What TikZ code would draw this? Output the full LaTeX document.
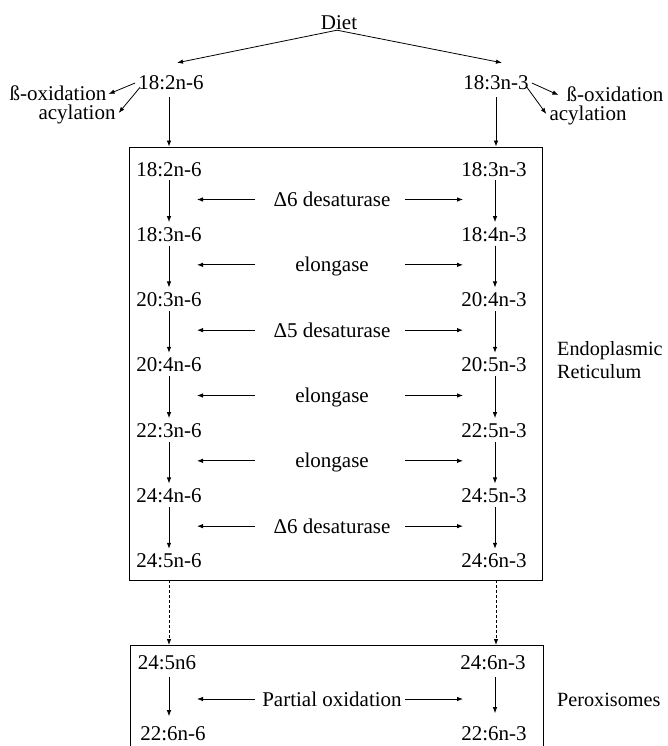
\documentclass[tikz,border=0pt]{standalone}
\usepackage{fontspec}
\setmainfont{Liberation Serif}
\usetikzlibrary{arrows.meta,calc}
\begin{document}
\begin{tikzpicture}[x=1pt,y=-1pt,
  lbl/.style={inner sep=0pt, font=\fontsize{21}{24}\selectfont, text height=14pt, text depth=0pt},
  side/.style={inner sep=0pt, font=\fontsize{20.2}{23}\selectfont, align=left, anchor=west},
  arr/.style={-{Latex[length=6pt,width=4.5pt]}, line width=0.8pt},
  dasharr/.style={arr, dash pattern=on 3pt off 2pt},
  frame/.style={draw, line width=0.8pt, inner sep=0pt}]
\useasboundingbox (0,0) rectangle (667,746);

% top
\node[lbl] (diet) at (339,23) {Diet};
\node[lbl] (l0) at (171,83) {18:2n-6};
\node[lbl] (r0) at (496,83) {18:3n-3};
\node[lbl] (lb) at (58,94) {ß-oxidation};
\node[lbl] (la) at (77,113) {acylation};
\node[lbl] (rb) at (615,95) {ß-oxidation};
\node[lbl] (ra) at (588,114) {acylation};

\draw[arr] ([xshift=-2pt]diet.south) -- ([xshift=6pt,yshift=13pt]l0.north);
\draw[arr] ([xshift=-2pt]diet.south) -- ([xshift=6pt,yshift=13pt]r0.north);
\draw[arr] ([xshift=-3pt]l0.west) -- ([xshift=2pt]lb.east);
\draw[arr] ([xshift=2pt,yshift=3pt]l0.south west) -- ([xshift=3pt]la.east);
\draw[arr] ([xshift=3pt]r0.east) -- ([xshift=-8pt]rb.west);
\draw[arr] ([xshift=-2pt,yshift=3pt]r0.south east) -- ([xshift=-3pt]ra.west);

% endoplasmic reticulum box
\node[frame, minimum width=413pt, minimum height=433pt] (er) at (335.5,363.5) {};
\draw[arr, shorten <=7pt] ([xshift=-2pt]l0.south) -- ([xshift=-2pt]l0.south |- er.north);
\draw[arr, shorten <=7pt] (r0.south) -- (r0.south |- er.north);

\foreach \t [count=\i] in {18:2n-6,18:3n-6,20:3n-6,20:4n-6,22:3n-6,24:4n-6,24:5n-6}
  \node[lbl] (L\i) at (169,{169+65.33*(\i-1)}) {\t};
\foreach \t [count=\i] in {18:3n-3,18:4n-3,20:4n-3,20:5n-3,22:5n-3,24:5n-3,24:6n-3}
  \node[lbl] (R\i) at (494,{169+65.33*(\i-1)}) {\t};
\foreach \t [count=\i] in {Δ6 desaturase,elongase,Δ5 desaturase,elongase,elongase,Δ6 desaturase}
  \node[lbl] (E\i) at (332,{199.5+65.33*(\i-1)}) {\t};

\foreach \i in {1,...,6}{
  \pgfmathtruncatemacro\j{\i+1}
  \draw[arr, shorten <=4pt, shorten >=5pt] (L\i.south) -- (L\j.north);
  \draw[arr, shorten <=4pt, shorten >=5pt] ([xshift=1pt]R\i.south) -- ([xshift=1pt]R\j.north);
  \draw[arr] ($(E\i.center)+(-77,0)$) -- ($(E\i.center)+(-135,0)$);
  \draw[arr] ($(E\i.center)+(73,0)$) -- ($(E\i.center)+(131,0)$);
}

\node[side] (erl) at (557,360) {Endoplasmic\\Reticulum};

% peroxisomes box
\node[frame, minimum width=413pt, minimum height=130pt, anchor=north] (per) at (336.5,645) {};
\draw[dasharr] (L7.south |- er.south) -- (L7.south |- per.north);
\draw[dasharr] ([xshift=2pt]R7.south |- er.south) -- ([xshift=2pt]R7.south |- per.north);

\node[lbl] (pl1) at (167,662) {24:5n6};
\node[lbl] (pr1) at (493,662) {24:6n-3};
\node[lbl] (pl2) at (173,733) {22:6n-6};
\node[lbl] (pr2) at (494,733) {22:6n-3};
\draw[arr] ($(pl1.south)+(2,8)$) -- ($(pl1.south)+(2,47)$);
\draw[arr] ($(pr1.south)+(2,8)$) -- ($(pr1.south)+(2,44)$);

\node[lbl] (po) at (332,699) {Partial oxidation};
\draw[arr] ($(po.center)+(-77,0)$) -- ($(po.center)+(-135,0)$);
\draw[arr] ($(po.center)+(73,0)$) -- ($(po.center)+(131,0)$);
\node[side] (px) at (557,700) {Peroxisomes};
\end{tikzpicture}
\end{document}
